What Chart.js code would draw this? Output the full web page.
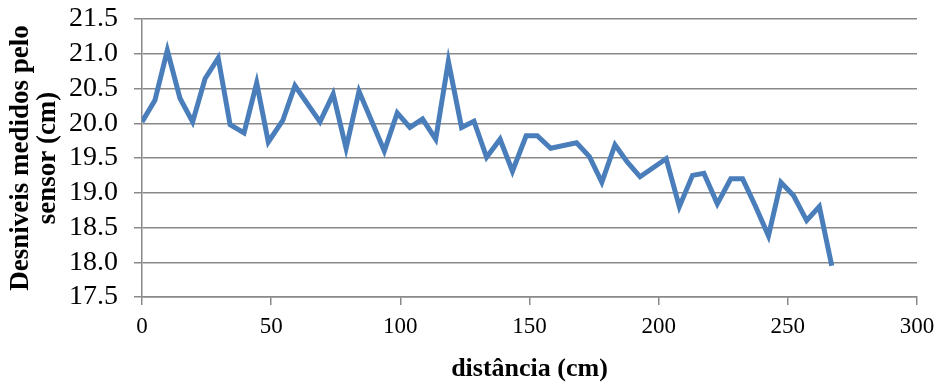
<!DOCTYPE html>
<html>
<head>
<meta charset="utf-8">
<script src="https://cdn.jsdelivr.net/npm/chart.js@4"></script>
<style>
  html, body { margin: 0; padding: 0; background: #fff; }
  #wrap { width: 937px; height: 385px; }
</style>
</head>
<body>
<div id="wrap"><canvas id="sensorChart" width="937" height="385"></canvas></div>
<script>
// distância (cm) and desníveis medidos (cm)
const distances = [
  0, 5.0, 9.8, 14.7, 19.6, 24.4, 29.5, 34.1, 39.5, 44.4,
  48.9, 54.5, 59.2, 68.9, 74.0, 79.0, 84.0, 93.8, 98.8, 103.7,
  108.6, 113.7, 118.6, 123.7, 128.5, 133.4, 138.6, 143.4, 148.7, 153.0,
  158.2, 168.2, 173.2, 178.0, 183.1, 187.9, 192.8, 202.9, 208.0, 213.1,
  217.5, 222.7, 227.9, 232.5, 237.3, 242.5, 247.3, 252.2, 257.3, 262.2,
  267.0
];
const levels = [
  20.02, 20.33, 21.05, 20.36, 20.02, 20.64, 20.94, 19.98, 19.86, 20.58,
  19.73, 20.04, 20.54, 20.02, 20.42, 19.64, 20.46, 19.60, 20.15, 19.94,
  20.06, 19.77, 20.89, 19.94, 20.03, 19.51, 19.77, 19.31, 19.82, 19.82,
  19.64, 19.72, 19.52, 19.15, 19.69, 19.44, 19.23, 19.49, 18.80, 19.25,
  19.28, 18.84, 19.20, 19.20, 18.82, 18.38, 19.15, 18.96, 18.60, 18.80,
  17.95
];
const yTicks = [17.5, 18.0, 18.5, 19.0, 19.5, 20.0, 20.5, 21.0, 21.5];
const xTicks = [0, 50, 100, 150, 200, 250, 300];

const points = distances.map((d, i) => ({ x: d, y: levels[i] }));
const serif = "'Liberation Serif', 'Times New Roman', serif";
const gridGray = '#898989';

new Chart('sensorChart', {
  type: 'line',
  data: {
    datasets: [{
      data: points,
      borderColor: '#4A7EBB',
      borderWidth: 5,
      pointRadius: 0,
      tension: 0,
      fill: false
    }]
  },
  options: {
    responsive: false,
    animation: false,
    layout: { padding: 0 },
    plugins: { legend: { display: false }, tooltip: { enabled: false } },
    scales: {
      x: {
        type: 'linear',
        min: 0,
        max: 300,
        afterBuildTicks: (axis) => { axis.ticks = xTicks.map(v => ({ value: v })); },
        afterFit: (axis) => {
          axis.height = 88;
          axis.paddingRight = 20;
        },
        ticks: { color: '#000', font: { family: serif, size: 23 }, padding: 8, maxRotation: 0, autoSkip: false },
        grid: { drawOnChartArea: false, drawTicks: true, tickLength: 8, color: gridGray, lineWidth: 1.5 },
        border: { display: true, color: gridGray, width: 1.5 },
        title: {
          display: true,
          text: 'distância (cm)',
          color: '#000',
          font: { family: serif, size: 26, weight: 'bold' },
          padding: { top: 4, bottom: 0 }
        }
      },
      y: {
        min: 17.5,
        max: 21.5,
        afterBuildTicks: (axis) => { axis.ticks = yTicks.map(v => ({ value: v })); },
        afterFit: (axis) => {
          axis.width = 142;
          axis.paddingTop = 19;
        },
        ticks: {
          color: '#000',
          font: { family: serif, size: 28, lineHeight: 1 },
          padding: 16,
          autoSkip: false,
          callback: (v) => Number(v).toFixed(1)
        },
        grid: { color: gridGray, lineWidth: 1.5, drawTicks: true, tickLength: 8 },
        border: { display: true, color: gridGray, width: 1.5 },
        title: {
          display: true,
          text: ['Desniveis medidos pelo', 'sensor (cm)'],
          color: '#000',
          font: { family: serif, size: 27, weight: 'bold', lineHeight: 1.0 },
          padding: { top: 8, bottom: 0 }
        }
      }
    }
  }
});
</script>
</body>
</html>
